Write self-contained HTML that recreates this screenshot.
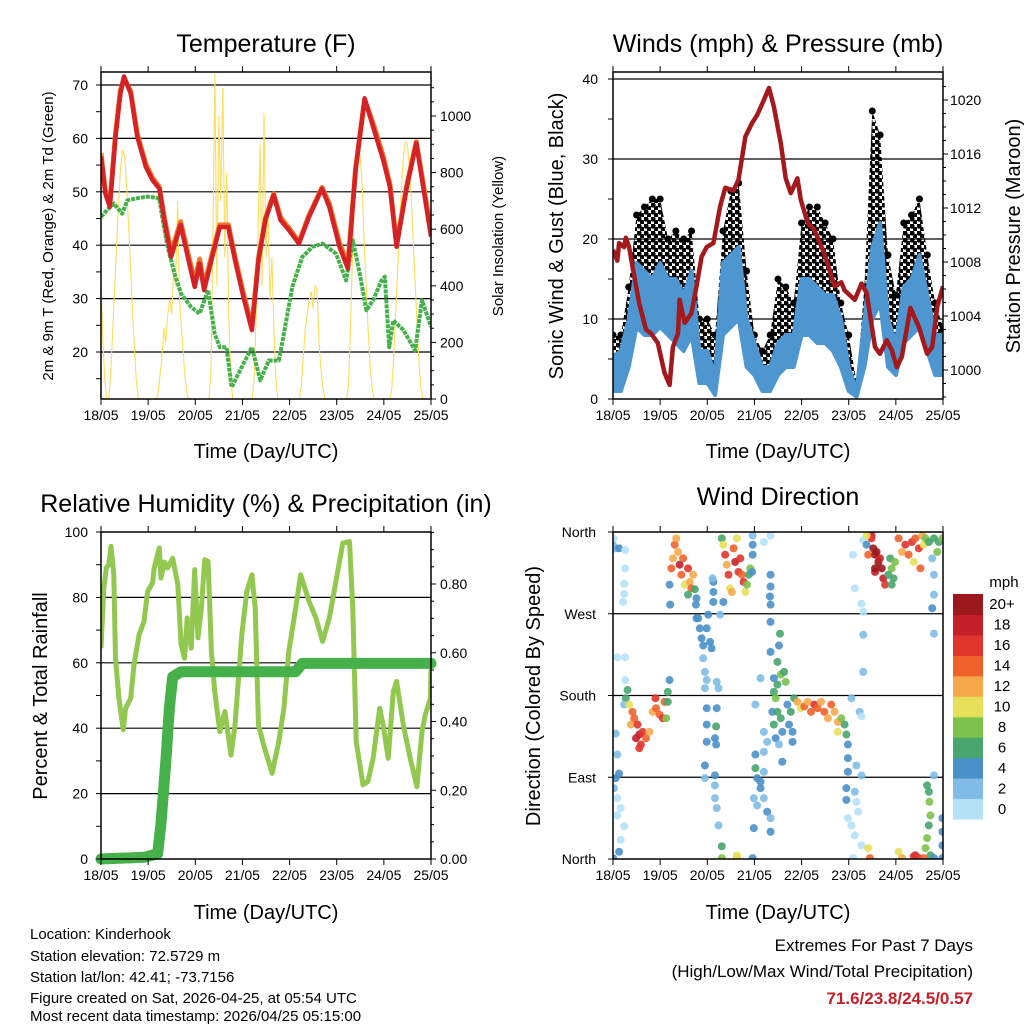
<!DOCTYPE html>
<html><head><meta charset="utf-8">
<style>
html,body{margin:0;padding:0;background:#fff;}
svg{display:block;font-family:"Liberation Sans",Arial,sans-serif;}
</style></head>
<body>
<svg id="chart" width="1024" height="1024" viewBox="0 0 1024 1024" xmlns="http://www.w3.org/2000/svg">
<defs>
<clipPath id="c1"><rect x="101" y="72" width="330" height="327"/></clipPath>
<clipPath id="c2"><rect x="613" y="72" width="330" height="327"/></clipPath>
<clipPath id="c3"><rect x="101" y="532" width="330" height="327"/></clipPath>
<clipPath id="c4"><rect x="613" y="532" width="330" height="327"/></clipPath>
<pattern id="dots" width="7" height="7" patternUnits="userSpaceOnUse">
<circle cx="2" cy="2" r="2.6" fill="#000"/><circle cx="5.5" cy="5.5" r="2.6" fill="#000"/>
</pattern>
</defs>
<rect width="1024" height="1024" fill="#fff"/>
<g id="p1"></g>
<g id="p2"></g>
<g id="p3"></g>
<g id="p4"></g>

<text x="266" y="52" font-size="25" text-anchor="middle">Temperature (F)</text>
<text x="778" y="52" font-size="25" text-anchor="middle">Winds (mph) &amp; Pressure (mb)</text>
<text x="266" y="512" font-size="25" text-anchor="middle">Relative Humidity (%) &amp; Precipitation (in)</text>
<text x="778" y="505" font-size="25" text-anchor="middle">Wind Direction</text>

<text x="266" y="458" font-size="20" text-anchor="middle">Time (Day/UTC)</text>
<text x="778" y="458" font-size="20" text-anchor="middle">Time (Day/UTC)</text>
<text x="266" y="919" font-size="20" text-anchor="middle">Time (Day/UTC)</text>
<text x="778" y="919" font-size="20" text-anchor="middle">Time (Day/UTC)</text>

<text transform="translate(53,236) rotate(-90)" font-size="15" text-anchor="middle">2m &amp; 9m T (Red, Orange) &amp; 2m Td (Green)</text>
<text transform="translate(503,236) rotate(-90)" font-size="15" text-anchor="middle">Solar Insolation (Yellow)</text>
<text transform="translate(563,236) rotate(-90)" font-size="20" text-anchor="middle">Sonic Wind &amp; Gust (Blue, Black)</text>
<text transform="translate(1020,236) rotate(-90)" font-size="20" text-anchor="middle">Station Pressure (Maroon)</text>
<text transform="translate(47,696) rotate(-90)" font-size="20" text-anchor="middle">Percent &amp; Total Rainfall</text>
<text transform="translate(540,696) rotate(-90)" font-size="20" text-anchor="middle">Direction (Colored By Speed)</text>

<g font-size="15">
<text x="30" y="939">Location: Kinderhook</text>
<text x="30" y="961">Station elevation: 72.5729 m</text>
<text x="30" y="982">Station lat/lon: 42.41; -73.7156</text>
<text x="30" y="1003">Figure created on Sat, 2026-04-25, at 05:54 UTC</text>
<text x="30" y="1024" dy="-3">Most recent data timestamp: 2026/04/25 05:15:00</text>
</g>
<g text-anchor="end">
<text x="973" y="951" font-size="17">Extremes For Past 7 Days</text>
<text x="973" y="977" font-size="17">(High/Low/Max Wind/Total Precipitation)</text>
<text x="973" y="1004" font-size="17" font-weight="bold" fill="#c4202a">71.6/23.8/24.5/0.57</text>
</g>
</svg>
<script>
// ---------- DATA ----------
const dayLabels = ["18/05","19/05","20/05","21/05","22/05","23/05","24/05","25/05"];
const tempHours = [0,2.2,4.5,7.4,9.9,11.7,15.1,18.5,22.8,26.2,29.7,32.2,35.7,40.5,44.2,47.7,50.2,52.5,56.2,60.5,64.8,68.2,72.5,76.8,80.2,83.7,87.9,91.4,95.7,100.8,105.9,112.5,116.2,121.4,125.7,129.6,134.2,138.5,143.7,147.1,150.5,155.7,160.5,165.1,168];
const temp2m = [56.6,49.7,47.2,60.3,68.4,71.6,68.4,60.3,54.7,52.2,50.6,44.7,37.8,43.8,37.8,32.2,36.6,31.6,37.2,43.4,43.4,37.2,30.3,24.1,37.2,44.7,49.4,44.7,42.8,40.3,45.3,50.6,47.2,39.7,35.6,54.1,67.5,62.2,55.9,50.9,39.7,50.9,59.1,48.4,41.6];
const temp9m = [57.2,50.2,47.6,60.8,69.0,71.2,68.8,60.8,55.2,52.6,50.9,45.2,38.6,44.4,38.6,33.2,37.4,32.4,37.8,43.8,43.8,37.8,31.0,24.8,37.6,45.0,49.6,45.2,43.2,40.6,45.6,50.8,47.8,40.4,36.4,54.4,67.2,62.8,56.6,51.4,40.2,51.2,59.4,49.2,42.4];
const dewHours = [0,3.1,6.5,10.8,13.4,18.5,23.7,29.7,31.4,33.9,37.4,40.8,45.9,50.2,54.5,57.9,60.5,63.9,66.5,71.7,76.8,81.1,85.4,90.5,93.1,97.4,102.5,107.7,112.8,119.7,124.8,128.2,131.7,135.1,138.5,142.8,144.5,146.7,148.8,154,159.9,163.4,168];
const dewPoint = [45.3,46.6,47.8,45.9,48.4,48.8,49.1,48.8,44.7,39.7,34.7,30.9,28.4,27.2,31.6,23.4,20.9,20.9,13.4,17.2,20.9,14.7,18.4,18.4,23.4,32.2,37.8,39.7,40.3,38.4,33.4,40.9,34.7,27.8,29.7,33.4,34.1,20.9,25.9,24.1,20.3,29.7,24.7];
const solarHourly = [
 400,200,60,0,0,100,250,400,550,700,820,880,860,760,620,470,320,180,60,0,0,0,0,0,
 0,0,0,0,0,20,80,150,250,200,300,350,300,450,400,700,350,250,150,60,10,0,0,0,
 0,0,0,0,0,0,0,0,100,600,1150,400,1000,700,1100,500,800,300,100,0,0,0,0,0,
 0,0,0,0,0,0,80,300,600,900,400,1010,500,700,350,500,250,80,0,0,0,0,0,0,
 0,0,0,0,0,0,50,150,250,300,350,380,320,400,385,200,100,40,0,0,0,0,0,0,
 0,0,0,0,0,0,50,250,500,700,850,900,850,750,550,400,250,120,40,0,0,0,0,0,
 0,0,0,0,30,150,300,450,600,750,860,910,900,820,700,550,400,250,120,30,0,0,0,0,0];
const windHours = [0,4,8,12,16,20,24,28,32,36,40,44,48,52,56,60,64,68,72,76,80,84,88,92,96,100,104,108,112,116,120,124,128,132,136,140,144,148,152,156,160,164,168];
const windHigh = [5.3,6,10,17,16,15,17,15,15,13,16,6,6,3,17,18,19,10,7,4,4,7,8,8,15,15,14,13,13,10,4,1,10,19,22,10,7,14,15,18,13,8,8];
const windLow = [1,1,4,9,8,8,9,8,7,6,8,2,2,0.5,8,9,10,4,3,1,1,3,4,4,8,8,7,7,6,4,1,0.3,4,10,12,4,3,7,8,9,6,3,3];
const windGust = [8,8,14,23,24,25,25,20,21,20,21,10,10,8,21,26,27,16,8,6,8,15,14,12,22,24,24,22,20,12,8,2,14,36,33,18,13,22,23,25,18,12,9];
const presHours = [0,2.2,3.1,5.7,6.5,8.2,9.9,13.4,16.8,19.4,22.8,26.2,28.8,30.5,33.1,33.9,36.5,39.9,42.5,45.1,47.7,51.1,54.5,57.1,61.4,63.9,67.4,70.8,73.4,76.8,79.4,81.9,85.4,87.9,90.5,93.9,95.6,99.1,102.5,107.6,112.8,116.2,117.9,123.1,126.5,129.1,133.4,135.9,139.4,141.9,144.5,147.1,151.4,155.7,159.9,162.5,165.1,168];
const pressure = [1008.9,1008.1,1009.4,1009.1,1009.8,1009.1,1007.7,1004.9,1003.0,1002.7,1002.0,999.8,998.9,1001.7,1002.7,1005.2,1003.5,1004.2,1006.2,1008.4,1009.1,1009.4,1012.1,1013.5,1013.3,1014.1,1017.3,1018.3,1018.9,1020.0,1020.9,1019.5,1016.8,1014.2,1013.1,1014.2,1012.6,1010.9,1010.4,1008.6,1006.2,1006.5,1005.9,1005.2,1006.4,1005.7,1001.7,1001.2,1002.2,1001.5,1000.2,1001.0,1004.6,1003.2,1001.2,1001.7,1004.7,1006.2];
const rhHours = [0,1.4,2.7,3.9,5.1,6.5,7.4,9.1,11.3,12.5,15.1,16.8,19.4,21.9,23.7,26.2,27.1,29.7,30.5,32.2,33.9,36.5,39.1,40.8,42.5,43.9,45.9,47.7,49.4,51.1,52.8,54.5,56.2,57.9,60.5,63.1,66.2,68.2,71.7,74.2,76.8,78.5,80.2,82.8,87.1,90.5,93.1,95.6,99.1,101.6,105.9,109.4,112.8,116.2,119.6,123.1,126.5,128.2,129.9,133.4,135.9,138.5,141.9,143.6,146.2,148.8,150.5,153.9,157.4,160.8,163.4,165.1,167.7,168];
const rhValues = [64.5,82.9,89,90,95.6,86.9,61.4,49.2,39.5,46.1,49.2,59.4,68.6,72.7,81.8,84.4,89,95.1,85.9,90.8,89,92,83.9,65.5,61.4,73.7,64.5,88.5,67.6,76.7,91.5,91,63.5,51.2,39,45.1,31.8,41,68.6,81.8,86.9,76.7,41,34.9,26.2,35.9,46.1,63.5,76.7,86.9,78.8,73.7,66.5,73.7,84.9,96.6,97.1,76.7,35.9,22.7,23.7,30.8,46.1,41,30.8,51.2,54.3,41,30.8,22.1,39,44.1,49.2,59.4];
const precipHours = [0,21.9,28.8,30.5,33.1,34.8,36.5,40.8,99.1,102.5,168];
const precipValues = [0,0.005,0.015,0.1,0.29,0.44,0.53,0.545,0.545,0.569,0.569];
const dirHours = [
 0,1.4,3.1,6.2,6.2,5.7,5.7,5.1,0.3,
 2.2,6.2,6.2,6.5,5.7,1.4,2.2,3.1,1.4,0.5,2.2,3.9,2.2,5.7,3.9,3.1,0,
 7.4,8.2,9.9,9.1,10.8,12.5,13.4,14.2,15.1,16.8,18.5,11.7,13.4,20.2,21.6,21.9,23.7,25.4,26.2,27.9,27.1,28.8,27.9,
 28.8,29.1,29.7,30.5,31.4,32.2,33.1,33.9,34.8,35.7,36.5,38.2,39.1,39.9,40.8,38.2,41.7,42.5,42.2,42.5,
 43.4,44.2,45.1,45.9,47.7,48.5,49.4,50.2,51.1,51.1,51.1,50.7,45.9,46.8,47.7,46.8,47.7,47.7,47.7,46.8,46.8,52.8,53.7,52.8,52.5,51.9,52.5,51.9,51.9,51.9,52.8,53.7,55.4,55.4,
 55.4,56.2,57.1,57.9,58.8,59.6,60.5,61.4,62.2,63.1,63.9,64.8,65.6,66.5,67.4,68.2,69.1,69.9,56.2,54.5,63.1,63.1,
 71.1,71.1,71.1,70.8,71.1,76.8,80.2,80.2,80.2,79.9,80.2,
 80.2,85,84.5,83.7,80.2,81.9,83.7,85.4,87.1,87.9,81.9,82.8,81.1,83.7,85.4,86.2,81.9,82.8,84.5,86.2,76.8,78.5,76.8,72.5,72.5,73.4,75.1,76.8,75.1,76.8,78.5,73.4,71.7,71.7,80.2,80.2,72.5,75.1,88.8,90.5,91.4,91.4,89.6,92.2,
 93.9,95.6,97.4,99.1,100.8,102.5,104.2,105.9,107.6,109.4,111.1,112.8,114.5,116.2,117.9,118.8,114.5,119.6,119.6,119.6,118.8,118.8,121.4,125.6,126.5,123.9,126.5,123.1,123.9,124.8,119.6,121.4,123.1,126.5,122.2,129.9,130.8,127.4,127.4,
 122.2,123.1,126.5,127.4,127.4,129.1,129.9,131.6,132.5,133.4,134.2,135.1,135.9,136.8,133.4,137.6,138.5,131.6,129.1,133.4,141.1,141.9,142.8,143.6,140.2,141.9,
 145.4,147.1,148.8,150.5,152.2,153.9,155.7,156.5,157.4,158.2,153.1,159.1,160.8,163.4,165.9,167.7,165.1,162.5,163.4,163.4,162.5,163.4,
 159.9,160.8,161.1,161.6,160.8,159.9,159.1,161.6,163.4,167.7,167.7,167.7,167.7,163.4,145.4,147.1,153.9,155.7,158.2,153.1];
const dirDegrees = [
 346,342,342,340,320,303,292,283,353,
 222,222,197,177,170,138,115,94,89,78,67,56,48,36,21,8,1,
 186,170,162,148,155,148,137,126,140,133,140,133,122,162,177,166,159,155,173,173,155,197,184,
 302,280,320,331,346,353,338,324,313,331,302,320,305,298,313,291,297,287,280,265,
 265,254,243,235,254,269,239,232,294,305,283,309,221,206,197,188,166,148,129,103,89,195,188,166,146,133,126,92,81,67,56,37,14,1,
 353,346,335,324,313,298,294,342,327,353,316,331,313,305,294,302,313,320,283,269,1,4,
 356,346,335,316,1,349,356,313,300,289,280,
 261,248,235,217,228,199,192,203,206,195,184,177,162,162,155,140,148,133,126,107,140,129,118,115,100,89,85,96,78,67,52,59,67,34,30,45,170,199,170,162,140,129,148,177,
 173,166,168,173,162,170,166,173,162,155,170,162,151,155,148,137,140,126,111,96,78,65,177,162,157,103,92,74,63,52,45,37,26,15,1,12,1,206,247,
 335,298,281,272,351,346,335,356,342,335,338,327,331,320,316,309,302,353,356,320,331,320,309,327,313,302,
 353,338,346,335,349,353,342,320,356,346,327,353,349,353,349,353,338,331,313,291,276,248,
 81,74,63,48,37,23,12,4,1,45,30,15,1,92,8,1,4,1,1,3];
const dirSpeed = [
 3,2,4,1,1,1,1,1,1,
 1,1,1,7,3,3,3,5,5,3,1,1,1,1,1,5,5,
 7,11,15,13,15,17,19,17,17,15,13,19,17,13,17,15,15,17,15,7,9,5,7,
 5,5,15,13,15,13,13,19,15,15,11,17,13,15,13,7,7,5,5,5,
 5,5,5,5,5,5,5,5,5,5,5,3,3,3,3,3,5,5,5,5,3,3,3,5,7,5,5,5,3,3,3,3,7,9,
 7,11,17,13,17,11,13,15,19,11,17,17,15,17,11,9,7,9,5,3,13,11,
 3,5,5,5,5,1,1,5,5,5,5,
 5,7,5,7,5,5,7,9,7,9,7,9,5,7,7,5,7,5,3,5,3,3,3,5,7,5,5,3,5,3,5,3,3,5,5,3,3,3,5,7,5,5,5,7,
 13,11,15,13,15,17,15,13,15,13,15,13,13,9,7,7,11,5,5,5,5,5,3,3,1,3,3,3,1,1,1,1,1,1,1,11,15,3,3,
 1,1,1,1,1,5,15,19,21,21,21,21,19,21,19,19,17,17,11,21,7,9,7,9,7,7,
 15,13,17,15,17,15,17,15,13,11,11,9,7,7,7,9,9,3,3,3,5,3,
 7,7,9,9,7,9,9,7,5,5,5,5,5,3,11,13,19,17,15,17];
const speedLabels = ["0","2","4","6","8","10","12","14","16","18","20+"];
const speedColors = ["#b6e2f8","#80bce6","#4a90c8","#48a56e","#7cc24c","#e6e05a","#f7a84a","#f0622c","#e0352c","#c4202a","#9c181d"];
const dirLabels = ["North","East","South","West","North"];
const dirTicks = [0,90,180,270,360];

// ---------- HELPERS ----------
const NS = "http://www.w3.org/2000/svg";
function mk(parent, tag, attrs, name) {
  const el = document.createElementNS(NS, tag);
  for (const k in attrs) el.setAttribute(k, attrs[k]);
  
  
  parent.appendChild(el);
  return el;
}
function txt(parent, x, y, s, size, anchor, name) {
  const t = mk(parent, 'text', {x: x, y: y, 'font-size': size, 'text-anchor': anchor}, name);
  t.textContent = s;
  return t;
}
function pathFrom(xs, ys, fx, fy) {
  return xs.map((v, i) => (i ? 'L' : 'M') + fx(v).toFixed(1) + ',' + fy(ys[i]).toFixed(1)).join('');
}
const W = 330, H = 327;
function frame(g, X0, Y0, name) {
  mk(g, 'rect', {x: X0, y: Y0, width: W, height: H, fill: 'none', stroke: '#000', 'stroke-width': 1.5}, name);
}
function xTicks(g, X0, Y0, fx, name) {
  dayLabels.forEach((d, i) => {
    const x = fx(i * 24);
    mk(g, 'line', {x1: x, x2: x, y1: Y0 + H, y2: Y0 + H + 6, stroke: '#000'}, name + '-tick');
    mk(g, 'line', {x1: x, x2: x, y1: Y0, y2: Y0 - 6, stroke: '#000'}, name + '-top-tick');
    txt(g, x, Y0 + H + 21, d, 14, 'middle', name + '-label');
  });
}
function grid(g, X0, y, name) {
  mk(g, 'line', {x1: X0, x2: X0 + W, y1: y, y2: y, stroke: '#000', 'stroke-width': 1.2}, name);
}
function hTick(g, x, y, len, name) {
  mk(g, 'line', {x1: x, x2: x + len, y1: y, y2: y, stroke: '#000'}, name);
}

// ---------- PANEL 1: Temperature ----------
(function () {
  const g = document.getElementById('p1');
  const X0 = 101, Y0 = 72;
  const fx = h => X0 + h * W / 168;
  const fy = t => 85 + (70 - t) * 5.34;
  const fs = w => 399 - w * 0.283;
  for (let t = 20; t <= 70; t += 10) grid(g, X0, fy(t), 'temp-gridline');
  const c = mk(g, 'g', {'clip-path': 'url(#c1)'}, 'temp-series');
  const sh = solarHourly.map((v, i) => i);
  mk(c, 'path', {d: pathFrom(sh, solarHourly, fx, fs), fill: 'none', stroke: '#fbdd5c', 'stroke-width': 1.1}, 'solar-line');
  mk(c, 'path', {d: pathFrom(dewHours, dewPoint, fx, fy), fill: 'none', stroke: '#46b04a', 'stroke-width': 4, 'stroke-dasharray': '4 1', 'stroke-linejoin': 'round'}, 'dewpoint-line');
  mk(c, 'path', {d: pathFrom(tempHours, temp9m, fx, fy), fill: 'none', stroke: '#f07a2a', 'stroke-width': 5, 'stroke-linejoin': 'round'}, 'temp-9m-line');
  mk(c, 'path', {d: pathFrom(tempHours, temp2m, fx, fy), fill: 'none', stroke: '#d42226', 'stroke-width': 4.5, 'stroke-linejoin': 'round'}, 'temp-2m-line');
  frame(g, X0, Y0, 'temp-frame');
  for (let t = 15; t <= 70; t += 5) hTick(g, X0, fy(t), -5, 'temp-y-tick');
  for (let t = 20; t <= 70; t += 10) txt(g, 88, fy(t) + 5, String(t), 14, 'end', 'temp-y-label');
  for (let w = 0; w <= 1100; w += 50) hTick(g, X0 + W, fs(w), w % 200 === 0 ? 5 : 3, 'solar-y-tick');
  for (let w = 0; w <= 1000; w += 200) txt(g, 440, fs(w) + 5, String(w), 14, 'start', 'solar-y-label');
  xTicks(g, X0, Y0, fx, 'temp-x');
})();

// ---------- PANEL 2: Winds ----------
(function () {
  const g = document.getElementById('p2');
  const X0 = 613, Y0 = 72;
  const fx = h => X0 + h * W / 168;
  const fy = m => 399 - m * 8.0;
  const fp = p => 370 - (p - 1000) * 13.5;
  for (let m = 10; m <= 40; m += 10) grid(g, X0, fy(m), 'wind-gridline');
  const c = mk(g, 'g', {'clip-path': 'url(#c2)'}, 'wind-series');
  // gust region (dotted texture)
  let gd = pathFrom(windHours, windGust, fx, fy);
  for (let i = windHours.length - 1; i >= 0; i--) gd += 'L' + fx(windHours[i]).toFixed(1) + ',' + fy(windLow[i]).toFixed(1);
  mk(c, 'path', {d: gd + 'Z', fill: 'url(#dots)', stroke: 'none'}, 'gust-area');
  windHours.forEach((h, i) => {
    mk(c, 'circle', {cx: fx(h), cy: fy(windGust[i]), r: 3.5, fill: '#000'}, 'gust-point');
  });
  // wind band
  let bd = pathFrom(windHours, windHigh, fx, fy);
  for (let i = windHours.length - 1; i >= 0; i--) bd += 'L' + fx(windHours[i]).toFixed(1) + ',' + fy(windLow[i]).toFixed(1);
  mk(c, 'path', {d: bd + 'Z', fill: '#4e96d0', stroke: '#4e96d0', 'stroke-width': 4, 'stroke-linejoin': 'round'}, 'wind-band');
  mk(c, 'path', {d: pathFrom(presHours, pressure, fx, fp), fill: 'none', stroke: '#a3191e', 'stroke-width': 4.5, 'stroke-linejoin': 'round'}, 'pressure-line');
  frame(g, X0, Y0, 'wind-frame');
  for (let m = 0; m <= 40; m += 5) hTick(g, X0, fy(m), -5, 'wind-y-tick');
  for (let m = 0; m <= 40; m += 10) txt(g, 598, fy(m) + 5, String(m), 14, 'end', 'wind-y-label');
  for (let p = 998; p <= 1021; p += 1) hTick(g, X0 + W, fp(p), p % 4 === 0 ? 5 : 3, 'pressure-y-tick');
  for (let p = 1000; p <= 1020; p += 4) txt(g, 950, fp(p) + 5, String(p), 14, 'start', 'pressure-y-label');
  xTicks(g, X0, Y0, fx, 'wind-x');
})();

// ---------- PANEL 3: Humidity ----------
(function () {
  const g = document.getElementById('p3');
  const X0 = 101, Y0 = 532;
  const fx = h => X0 + h * W / 168;
  const fy = r => 859 - r * 3.27;
  const fp = p => 859 - p * 343.75;
  for (let r = 20; r <= 80; r += 20) grid(g, X0, fy(r), 'rh-gridline');
  const c = mk(g, 'g', {'clip-path': 'url(#c3)'}, 'rh-series');
  mk(c, 'path', {d: pathFrom(rhHours, rhValues, fx, fy), fill: 'none', stroke: '#92c850', 'stroke-width': 5, 'stroke-linejoin': 'round'}, 'rh-line');
  mk(g, 'path', {d: pathFrom(precipHours, precipValues, fx, fp), fill: 'none', stroke: '#46b04a', 'stroke-width': 11, 'stroke-linejoin': 'round', 'stroke-linecap': 'round'}, 'precip-line');
  frame(g, X0, Y0, 'rh-frame');
  for (let r = 0; r <= 100; r += 10) hTick(g, X0, fy(r), -5, 'rh-y-tick');
  for (let r = 0; r <= 100; r += 20) txt(g, 88, fy(r) + 5, String(r), 14, 'end', 'rh-y-label');
  for (let p = 0; p <= 0.951; p += 0.05) hTick(g, X0 + W, fp(p), Math.round(p * 100) % 20 === 0 ? 5 : 3, 'precip-y-tick');
  for (let k = 0; k <= 4; k++) txt(g, 440, fp(k * 0.2) + 5, (k * 0.2).toFixed(2), 14, 'start', 'precip-y-label');
  xTicks(g, X0, Y0, fx, 'rh-x');
})();

// ---------- PANEL 4: Wind direction ----------
(function () {
  const g = document.getElementById('p4');
  const X0 = 613, Y0 = 532;
  const fx = h => X0 + h * W / 168;
  const fy = d => 859 - d * 327 / 360;
  [90, 180, 270].forEach(d => grid(g, X0, fy(d), 'direction-gridline'));
  const c = mk(g, 'g', {'clip-path': 'url(#c4)'}, 'direction-points');
  dirHours.forEach((h, i) => {
    const bin = Math.min(10, Math.floor(dirSpeed[i] / 2));
    const p = document.createElementNS(NS, 'circle');
    p.setAttribute('cx', fx(h));
    p.setAttribute('cy', fy(dirDegrees[i]));
    p.setAttribute('r', 4);
    p.setAttribute('fill', speedColors[bin]);
    p.setAttribute('fill-opacity', 0.9);
    
    
    c.appendChild(p);
  });
  frame(g, X0, Y0, 'direction-frame');
  dirTicks.forEach((d, i) => {
    hTick(g, X0, fy(d), -5, 'direction-y-tick');
    txt(g, 596, fy(d) + 5, dirLabels[i], 14, 'end', 'direction-y-label');
  });
  xTicks(g, X0, Y0, fx, 'direction-x');
  // colorbar
  const cb = mk(g, 'g', {}, 'speed-colorbar');
  const bh = 225 / 11;
  speedColors.forEach((col, i) => {
    const y = 594 + (10 - i) * bh;
    const r = document.createElementNS(NS, 'rect');
    r.setAttribute('x', 953); r.setAttribute('y', y.toFixed(1));
    r.setAttribute('width', 30); r.setAttribute('height', (bh + 0.5).toFixed(1));
    r.setAttribute('fill', col);
    
    
    cb.appendChild(r);
    txt(cb, 1002, y + bh / 2 + 5, speedLabels[i], 15, 'middle', 'colorbar-label');
  });
  txt(cb, 1004, 587, 'mph', 15, 'middle', 'colorbar-title');
})();
</script>
</body></html>
